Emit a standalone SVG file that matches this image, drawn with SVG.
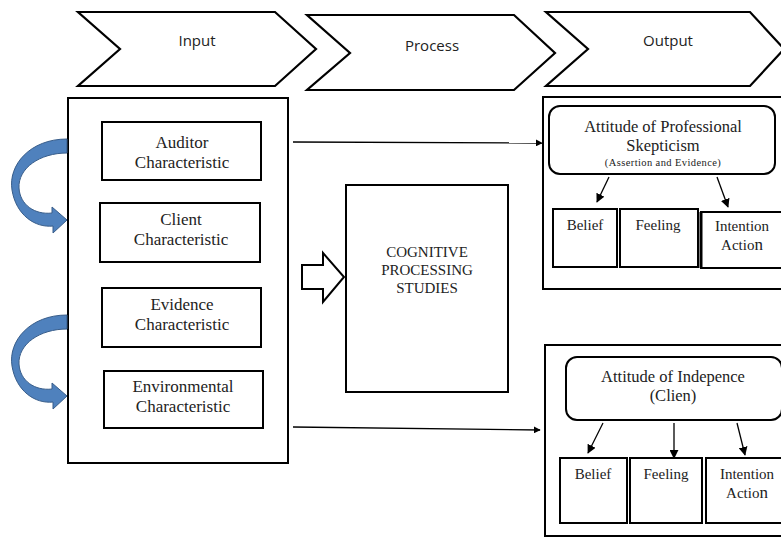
<svg xmlns="http://www.w3.org/2000/svg" width="781" height="539" viewBox="0 0 781 539">
<style>
.bx{fill:#fff;stroke:#000;stroke-width:2}
.ch{fill:#fff;stroke:#000;stroke-width:2.2;stroke-linejoin:miter}
.sans{font-family:"Open Sans","Liberation Sans",sans-serif;font-size:15px;fill:#222;text-anchor:middle}
.ser{font-family:"Liberation Serif","Times New Roman",serif;fill:#222;text-anchor:middle}
.t17{font-size:17px}
.t16{font-size:16.5px}
.t15{font-size:15px}
.t11{font-size:10.5px;letter-spacing:0.4px}
.ln{stroke:#000;stroke-width:1.3;fill:none}
.rib{fill:#4f81bd;stroke:#385d8a;stroke-width:1}
</style>
<defs>
<marker id="ah" viewBox="0 0 10 10" refX="9" refY="5" markerWidth="7" markerHeight="7" orient="auto" markerUnits="userSpaceOnUse">
<path d="M0,0 L10,5 L0,10 Z" fill="#000"/>
</marker>
<marker id="ah2" viewBox="0 0 10 10" refX="9" refY="5" markerWidth="9" markerHeight="9" orient="auto" markerUnits="userSpaceOnUse">
<path d="M0,0 L10,5 L0,10 Z" fill="#000"/>
</marker>
</defs>

<g id="chevron-input">
<polygon class="ch" points="78,12 275,12 316,49 275,86 78,86 120,49"/>
<text class="sans" x="197" y="46">Input</text>
</g>
<g id="chevron-process">
<polygon class="ch" points="307,15 514,15 555,53 514,90 307,90 350,53"/>
<text class="sans" x="432" y="51">Process</text>
</g>
<g id="chevron-output">
<polygon class="ch" points="546,12 750,12 784,49 750,86 546,86 588,49"/>
<text class="sans" x="668" y="46">Output</text>
</g>

<g id="input-box">
<rect class="bx" x="68" y="98" width="220" height="365"/>
</g>
<g id="auditor">
<rect class="bx" x="102" y="122" width="159" height="58"/>
<text class="ser t17" x="182" y="148">Auditor</text>
<text class="ser t17" x="182" y="168">Characteristic</text>
</g>
<g id="client">
<rect class="bx" x="100" y="203" width="160" height="59"/>
<text class="ser t17" x="181" y="225">Client</text>
<text class="ser t17" x="181" y="245">Characteristic</text>
</g>
<g id="evidence">
<rect class="bx" x="102" y="288" width="159" height="59"/>
<text class="ser t17" x="182" y="310">Evidence</text>
<text class="ser t17" x="182" y="330">Characteristic</text>
</g>
<g id="environmental">
<rect class="bx" x="104" y="371" width="159" height="57"/>
<text class="ser t17" x="183" y="392">Environmental</text>
<text class="ser t17" x="183" y="412">Characteristic</text>
</g>

<g id="loop-arrow-1">
<path class="rib" d="M67,139 C30,139 8,165 12,190 C16,215 35,228 53,226 L53,233 L67,220 L52,207 L52,213 C35,215 20,205 19,188 C18,168 40,153 67,153 Z"/>
</g>
<g id="loop-arrow-2">
<path class="rib" transform="translate(0,176)" d="M67,139 C30,139 8,165 12,190 C16,215 35,228 53,226 L53,233 L67,220 L52,207 L52,213 C35,215 20,205 19,188 C18,168 40,153 67,153 Z"/>
</g>

<g id="block-arrow">
<polygon fill="#fff" stroke="#000" stroke-width="2" points="302,265 323,265 323,253 344,277 323,302 323,289 302,289"/>
</g>
<g id="cognitive">
<rect class="bx" x="346" y="185" width="162" height="207"/>
<text class="ser t15" x="427" y="257">COGNITIVE</text>
<text class="ser t15" x="427" y="275">PROCESSING</text>
<text class="ser t15" x="427" y="293">STUDIES</text>
</g>

<g id="output-box-1">
<rect class="bx" x="543" y="97" width="250" height="192"/>
</g>
<g id="skepticism">
<rect class="bx" x="549" y="106" width="226" height="68" rx="11"/>
<text class="ser t16" x="663" y="132">Attitude of Professional</text>
<text class="ser t16" x="663" y="151">Skepticism</text>
<text class="ser t11" x="663" y="166">(Assertion and Evidence)</text>
</g>
<g id="belief-1">
<rect class="bx" x="553" y="209" width="64" height="58"/>
<text class="ser t15" x="585" y="230">Belief</text>
</g>
<g id="feeling-1">
<rect class="bx" x="620" y="209" width="78" height="58"/>
<text class="ser t15" x="658" y="230">Feeling</text>
</g>
<g id="intention-1">
<rect class="bx" x="701" y="212" width="92" height="56"/>
<line x1="701" y1="212" x2="701" y2="268" stroke="#000" stroke-width="3"/>
<text class="ser t15" x="742" y="231">Intention</text>
<text class="ser t15" x="742" y="250">Actio<tspan font-size="17">n</tspan></text>
</g>

<g id="output-box-2">
<rect class="bx" x="545" y="345" width="250" height="191"/>
</g>
<g id="independence">
<rect class="bx" x="566" y="357" width="216" height="63" rx="11"/>
<text class="ser t16" x="673" y="382">Attitude of Indepence</text>
<text class="ser t16" x="673" y="401">(Clien)</text>
</g>
<g id="belief-2">
<rect class="bx" x="560" y="458" width="67" height="65"/>
<text class="ser t15" x="593" y="479">Belief</text>
</g>
<g id="feeling-2">
<rect class="bx" x="630" y="458" width="72" height="65"/>
<text class="ser t15" x="666" y="479">Feeling</text>
</g>
<g id="intention-2">
<rect class="bx" x="706" y="458" width="90" height="65"/>
<text class="ser t15" x="747" y="479">Intention</text>
<text class="ser t15" x="747" y="498">Actio<tspan font-size="17">n</tspan></text>
</g>

<g id="connectors">
<line class="ln" x1="293" y1="142" x2="542" y2="143" marker-end="url(#ah)"/>
<line class="ln" x1="293" y1="427" x2="540" y2="430" marker-end="url(#ah)"/>
<line class="ln" x1="609" y1="177" x2="597" y2="202" marker-end="url(#ah2)"/>
<line class="ln" x1="717" y1="177" x2="728" y2="207" marker-end="url(#ah2)"/>
<line class="ln" x1="603" y1="423" x2="588" y2="453" marker-end="url(#ah2)"/>
<line class="ln" x1="674" y1="423" x2="674" y2="458" marker-end="url(#ah2)"/>
<line class="ln" x1="737" y1="423" x2="745" y2="455" marker-end="url(#ah2)"/>
</g>
</svg>
